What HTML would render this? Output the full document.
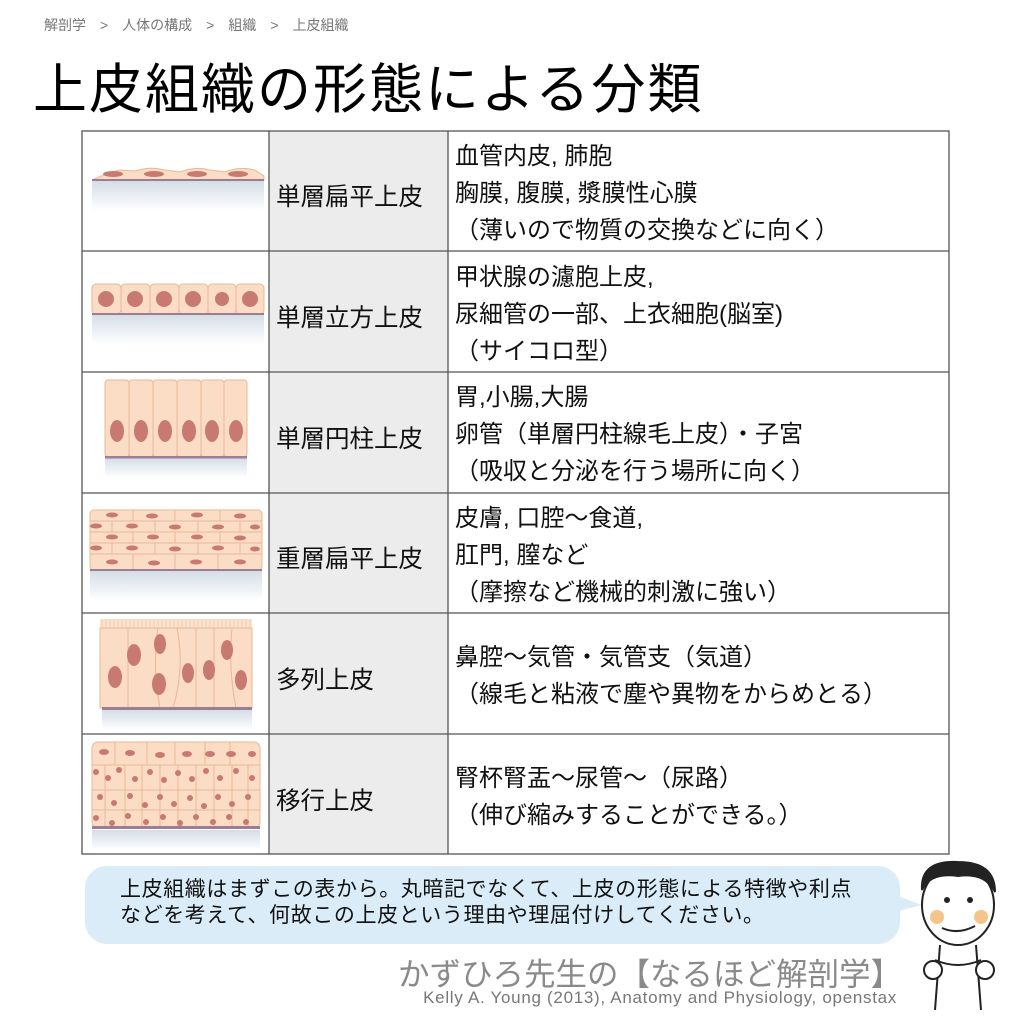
<!DOCTYPE html>
<html><head><meta charset="utf-8"><style>
body{margin:0;width:1024px;height:1024px;background:#fff;position:relative;overflow:hidden;font-family:"Liberation Sans","Noto Sans CJK JP",sans-serif;color:#111}
.a{position:absolute;white-space:nowrap}
.lbl{font-size:24.5px}
.d{font-size:24px;line-height:37px}
</style></head><body>
<div class="a" style="left:44px;top:15px;font-size:14px;color:#777">解剖学　&gt;　人体の構成　&gt;　組織　&gt;　上皮組織</div>
<div class="a" style="left:33px;top:45px;font-size:54px;letter-spacing:2px;color:#000">上皮組織の形態による分類</div>

<svg class="a" style="left:0;top:0" width="1024" height="1024">
<defs>
<linearGradient id="bg" x1="0" y1="0" x2="0" y2="1"><stop offset="0" stop-color="#d4dde6"/><stop offset="1" stop-color="#fff"/></linearGradient>
</defs>
<rect x="269" y="131" width="179" height="723" fill="#ececec"/>
<g stroke="#555" stroke-width="1.3" fill="none">
<rect x="82" y="131" width="867" height="723"/>
<line x1="269" y1="131" x2="269" y2="854"/><line x1="448" y1="131" x2="448" y2="854"/>
<line x1="82" y1="251" x2="949" y2="251"/><line x1="82" y1="372" x2="949" y2="372"/>
<line x1="82" y1="493" x2="949" y2="493"/><line x1="82" y1="613" x2="949" y2="613"/>
<line x1="82" y1="734" x2="949" y2="734"/>
</g>
<rect x="92" y="181" width="172" height="30" fill="url(#bg)"/>
<path d="M92 180 Q110 172 120 170 L135 171 Q150 166 165 170 L180 172 Q195 166 210 170 L225 172 Q240 166 255 170 L264 176 L264 180 Z" fill="#fbdcc4" stroke="#e9b896"/>
<rect x="92" y="179" width="172" height="2" fill="#9d7c98"/>
<g fill="#c97a70"><ellipse cx="113" cy="174" rx="10" ry="3"/><ellipse cx="154" cy="174" rx="10" ry="3"/><ellipse cx="197" cy="174" rx="10" ry="3"/><ellipse cx="238" cy="174" rx="10" ry="3"/></g>
<rect x="92" y="314" width="172" height="30" fill="url(#bg)"/>
<g fill="#fbdcc4" stroke="#e9b896"><rect x="92" y="284" width="29" height="30" rx="4"/><rect x="121" y="284" width="29" height="30" rx="4"/><rect x="150" y="284" width="29" height="30" rx="4"/><rect x="179" y="284" width="29" height="30" rx="4"/><rect x="208" y="284" width="28" height="30" rx="4"/><rect x="236" y="284" width="28" height="30" rx="4"/></g>
<rect x="92" y="313" width="172" height="2" fill="#9d7c98"/>
<g fill="#c97a70"><circle cx="106" cy="299" r="8"/><circle cx="135" cy="299" r="8"/><circle cx="164" cy="299" r="8"/><circle cx="193" cy="299" r="8"/><circle cx="222" cy="299" r="7"/><circle cx="250" cy="299" r="8"/></g>
<rect x="105" y="458" width="142" height="20" fill="url(#bg)"/>
<g fill="#fbdcc4" stroke="#e9b896"><rect x="105" y="380" width="24" height="77" rx="3"/><rect x="129" y="380" width="24" height="77" rx="3"/><rect x="153" y="380" width="24" height="77" rx="3"/><rect x="177" y="380" width="24" height="77" rx="3"/><rect x="201" y="380" width="23" height="77" rx="3"/><rect x="224" y="380" width="23" height="77" rx="3"/></g>
<rect x="105" y="456" width="142" height="2.5" fill="#9d7c98"/>
<g fill="#c97a70"><ellipse cx="117" cy="431" rx="7" ry="11"/><ellipse cx="141" cy="431" rx="7" ry="11"/><ellipse cx="165" cy="431" rx="7" ry="11"/><ellipse cx="189" cy="431" rx="7" ry="11"/><ellipse cx="212" cy="431" rx="7" ry="11"/><ellipse cx="236" cy="431" rx="7" ry="11"/></g>
<rect x="90" y="571" width="172" height="30" fill="url(#bg)"/>
<rect x="90" y="510" width="172" height="60" rx="4" fill="#fbdcc4" stroke="#e9b896"/>
<g stroke="#e9b896" fill="none"><line x1="90" y1="521" x2="262" y2="521"/><line x1="90" y1="532" x2="262" y2="532"/><line x1="90" y1="543" x2="262" y2="543"/><line x1="90" y1="554" x2="262" y2="554"/>
<path d="M133 510v11M175 510v11M220 510v11M112 521v11M155 521v11M198 521v11M240 521v11M133 532v11M175 532v11M220 532v11M112 543v11M155 543v11M198 543v11M240 543v11M133 554v16M175 554v16M218 554v16"/></g>
<rect x="90" y="569" width="172" height="2" fill="#9d7c98"/>
<g fill="#c97a70"><ellipse cx="112" cy="515" rx="6" ry="2.5"/><ellipse cx="152" cy="516" rx="6" ry="2.5"/><ellipse cx="197" cy="515" rx="6" ry="2.5"/><ellipse cx="240" cy="516" rx="6" ry="2.5"/>
<ellipse cx="96" cy="526" rx="6" ry="2.5"/><ellipse cx="132" cy="526" rx="6" ry="2.5"/><ellipse cx="175" cy="527" rx="6" ry="2.5"/><ellipse cx="218" cy="527" rx="6" ry="2.5"/><ellipse cx="255" cy="527" rx="5" ry="2.5"/>
<ellipse cx="112" cy="537" rx="6" ry="2.5"/><ellipse cx="153" cy="537" rx="6" ry="2.5"/><ellipse cx="197" cy="537" rx="6" ry="2.5"/><ellipse cx="240" cy="538" rx="6" ry="2.5"/>
<ellipse cx="96" cy="548" rx="6" ry="2.5"/><ellipse cx="132" cy="548" rx="6" ry="2.5"/><ellipse cx="175" cy="549" rx="6" ry="2.5"/><ellipse cx="218" cy="548" rx="6" ry="2.5"/><ellipse cx="255" cy="549" rx="5" ry="2.5"/>
<ellipse cx="112" cy="562" rx="6" ry="2.5"/><ellipse cx="154" cy="563" rx="6" ry="2.5"/><ellipse cx="196" cy="562" rx="6" ry="2.5"/><ellipse cx="240" cy="562" rx="6" ry="2.5"/></g>
<rect x="102" y="710" width="150" height="20" fill="url(#bg)"/>
<rect x="100" y="619" width="152" height="10" fill="#fbe3cf"/>
<g stroke="#ecc3a6" stroke-width="0.7"><path d="M102 619v10M106 619v10M110 619v10M114 619v10M118 619v10M122 619v10M126 619v10M130 619v10M134 619v10M138 619v10M142 619v10M146 619v10M150 619v10M154 619v10M158 619v10M162 619v10M166 619v10M170 619v10M174 619v10M178 619v10M182 619v10M186 619v10M190 619v10M194 619v10M198 619v10M202 619v10M206 619v10M210 619v10M214 619v10M218 619v10M222 619v10M226 619v10M230 619v10M234 619v10M238 619v10M242 619v10M246 619v10M250 619v10"/></g>
<rect x="100" y="628" width="152" height="80" fill="#fbdcc4" stroke="#e9b896"/>
<g stroke="#e9b896" fill="none"><path d="M128 628v80M158 628q-6 40 2 80M177 628q8 40 -4 80M196 628v80M214 628v80M232 628q-4 40 4 80"/></g>
<rect x="102" y="707" width="150" height="3" fill="#9d7c98"/>
<g fill="#c97a70"><ellipse cx="115" cy="677" rx="7" ry="11"/><ellipse cx="134" cy="655" rx="7" ry="11"/><ellipse cx="160" cy="644" rx="6" ry="10"/><ellipse cx="159" cy="684" rx="7" ry="11"/><ellipse cx="188" cy="673" rx="6" ry="10"/><ellipse cx="209" cy="670" rx="6" ry="10"/><ellipse cx="227" cy="650" rx="6" ry="10"/><ellipse cx="241" cy="680" rx="6" ry="10"/></g>
<rect x="92" y="830" width="168" height="20" fill="url(#bg)"/>
<rect x="92" y="742" width="168" height="86" rx="6" fill="#fbdcc4" stroke="#e9b896"/>
<g stroke="#e9b896" fill="none"><path d="M92 765h168M115 742v23M147 742v23M175 742v23M205 742v23M230 742v23M92 790h168M92 810h168M105 765v63M125 765v63M142 765v63M160 765v63M178 765v63M196 765v63M214 765v63M232 765v63M248 765v63"/></g>
<rect x="92" y="826" width="168" height="3" fill="#9d7c98"/>
<g fill="#c97a70">
<ellipse cx="104" cy="752" rx="5" ry="3"/><ellipse cx="130" cy="753" rx="5" ry="3"/><ellipse cx="160" cy="755" rx="5" ry="3"/><ellipse cx="187" cy="754" rx="5" ry="3"/><ellipse cx="210" cy="754" rx="5" ry="3"/><ellipse cx="231" cy="754" rx="5" ry="3"/><ellipse cx="252" cy="754" rx="4" ry="3"/>
<circle cx="96" cy="772" r="3"/><circle cx="108" cy="778" r="3"/><circle cx="119" cy="770" r="3"/><circle cx="135" cy="779" r="3"/><circle cx="150" cy="772" r="3"/><circle cx="164" cy="780" r="3"/><circle cx="178" cy="773" r="3"/><circle cx="192" cy="779" r="3"/><circle cx="206" cy="771" r="3"/><circle cx="220" cy="778" r="3"/><circle cx="236" cy="771" r="3"/><circle cx="252" cy="778" r="3"/>
<circle cx="100" cy="797" r="3"/><circle cx="114" cy="803" r="3"/><circle cx="130" cy="796" r="3"/><circle cx="145" cy="805" r="3"/><circle cx="160" cy="797" r="3"/><circle cx="174" cy="804" r="3"/><circle cx="190" cy="798" r="3"/><circle cx="204" cy="806" r="3"/><circle cx="218" cy="797" r="3"/><circle cx="232" cy="804" r="3"/><circle cx="248" cy="797" r="3"/>
<circle cx="96" cy="818" r="3"/><circle cx="112" cy="823" r="3"/><circle cx="128" cy="816" r="3"/><circle cx="146" cy="822" r="3"/><circle cx="163" cy="817" r="3"/><circle cx="180" cy="823" r="3"/><circle cx="196" cy="817" r="3"/><circle cx="213" cy="822" r="3"/><circle cx="229" cy="817" r="3"/><circle cx="246" cy="822" r="3"/>
</g>
<rect x="85" y="866" width="815" height="78" rx="22" fill="#d9ecf8"/>
<path d="M895 895 L922 905 L895 912 Z" fill="#d9ecf8"/>
<g stroke="#222" stroke-width="2" fill="#fff">
<ellipse cx="958" cy="905" rx="36" ry="40"/>
<path d="M922 890 Q920 860 958 862 Q995 862 995 892 Q985 872 958 876 Q930 872 922 890Z" fill="#222"/>
<path d="M940 945 L935 1010 M976 945 L981 1010" fill="none"/>
<path d="M935 960 Q958 970 981 960" fill="none"/>
<circle cx="933" cy="970" r="9"/><circle cx="985" cy="970" r="9"/>
<path d="M942 928 Q958 935 975 926" fill="none"/>
</g>
<circle cx="937" cy="917" r="7" fill="#f5c48a"/><circle cx="981" cy="917" r="7" fill="#f5c48a"/>
<circle cx="947" cy="900" r="3" fill="#222"/><circle cx="970" cy="900" r="3" fill="#222"/>
</svg>

<div class="a lbl" style="left:276px;top:178px">単層扁平上皮</div>
<div class="a lbl" style="left:276px;top:299px">単層立方上皮</div>
<div class="a lbl" style="left:276px;top:420px">単層円柱上皮</div>
<div class="a lbl" style="left:276px;top:540px">重層扁平上皮</div>
<div class="a lbl" style="left:276px;top:661px">多列上皮</div>
<div class="a lbl" style="left:276px;top:782px">移行上皮</div>

<div class="a d" style="left:455px;top:138px">血管内皮, 肺胞<br>胸膜, 腹膜, 漿膜性心膜<br>（薄いので物質の交換などに向く）</div>
<div class="a d" style="left:455px;top:259px">甲状腺の濾胞上皮,<br>尿細管の一部、上衣細胞(脳室)<br>（サイコロ型）</div>
<div class="a d" style="left:455px;top:379px">胃,小腸,大腸<br>卵管（単層円柱線毛上皮）・子宮<br>（吸収と分泌を行う場所に向く）</div>
<div class="a d" style="left:455px;top:500px">皮膚, 口腔〜食道,<br>肛門, 膣など<br>（摩擦など機械的刺激に強い）</div>
<div class="a d" style="left:455px;top:639px">鼻腔〜気管・気管支（気道）<br>（線毛と粘液で塵や異物をからめとる）</div>
<div class="a d" style="left:455px;top:760px">腎杯腎盂〜尿管〜（尿路）<br>（伸び縮みすることができる。）</div>

<div class="a" style="left:120px;top:877px;font-size:21px;line-height:26px;letter-spacing:0.6px">上皮組織はまずこの表から。丸暗記でなくて、上皮の形態による特徴や利点<br>などを考えて、何故この上皮という理由や理屈付けしてください。</div>
<div class="a" style="left:398px;top:949px;font-size:31.5px;color:#8a8a8a">かずひろ先生の【なるほど解剖学】</div>
<div class="a" style="right:127px;top:988px;font-size:17px;letter-spacing:0.7px;color:#777">Kelly A. Young (2013), Anatomy and Physiology, openstax</div>
</body></html>
